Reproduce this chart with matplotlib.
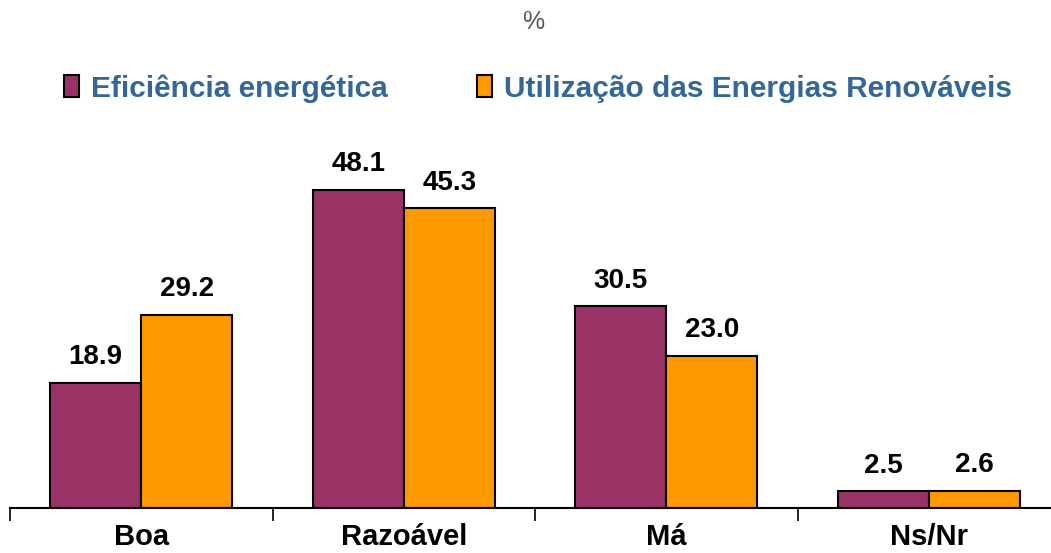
import matplotlib.pyplot as plt
import numpy as np

categories = ['Boa', 'Razoável', 'Má', 'Ns/Nr']
series_names = ['Eficiência energética', 'Utilização das Energias Renováveis']
eficiencia = [18.9, 48.1, 30.5, 2.5]
renovaveis = [29.2, 45.3, 23.0, 2.6]

plt.rcParams['font.family'] = ['Liberation Sans', 'DejaVu Sans']

fig = plt.figure(figsize=(10.51, 5.53), dpi=100)
ax = fig.add_axes([10 / 1051, 45 / 553, 1050 / 1051, 364 / 553])

x = np.arange(len(categories))
w = 0.347
b1 = ax.bar(x - w / 2, eficiencia, w, color='#993366', edgecolor='black', linewidth=1.5,
            label=series_names[0])
b2 = ax.bar(x + w / 2, renovaveis, w, color='#FF9900', edgecolor='black', linewidth=1.5,
            label=series_names[1])

for bars in (b1, b2):
    for rect in bars:
        h = rect.get_height()
        ax.annotate(f'{h:.1f}', (rect.get_x() + rect.get_width() / 2, h),
                    xytext=(0, 9), textcoords='offset points', ha='center', va='bottom',
                    fontsize=20, fontweight='bold')

ax.set_xlim(-0.5, 3.5)
ax.set_ylim(0, 55)
for s in ['top', 'right', 'left']:
    ax.spines[s].set_visible(False)
ax.spines['bottom'].set_linewidth(1.5)
ax.set_yticks([])
ax.set_xticks(x)
ax.set_xticklabels(categories, fontsize=21, fontweight='bold')
ax.tick_params(axis='x', which='major', length=0, pad=11)
ax.set_xticks(np.arange(-0.5, 4, 1), minor=True)
ax.tick_params(axis='x', which='minor', length=9, width=1.2, direction='out')

fig.text(0.507, 0.96, '%', ha='center', va='center', fontsize=18, color='#555555')

leg = fig.legend(handles=[b1, b2], loc='center', bbox_to_anchor=(0.512, 0.84), ncol=2,
                 frameon=False, fontsize=21.5, handlelength=0.5, handleheight=0.75,
                 handletextpad=0.4, columnspacing=3.0)
for t in leg.get_texts():
    t.set_color('#336699')
    t.set_fontweight('bold')

fig.savefig('out.png', dpi=100)
